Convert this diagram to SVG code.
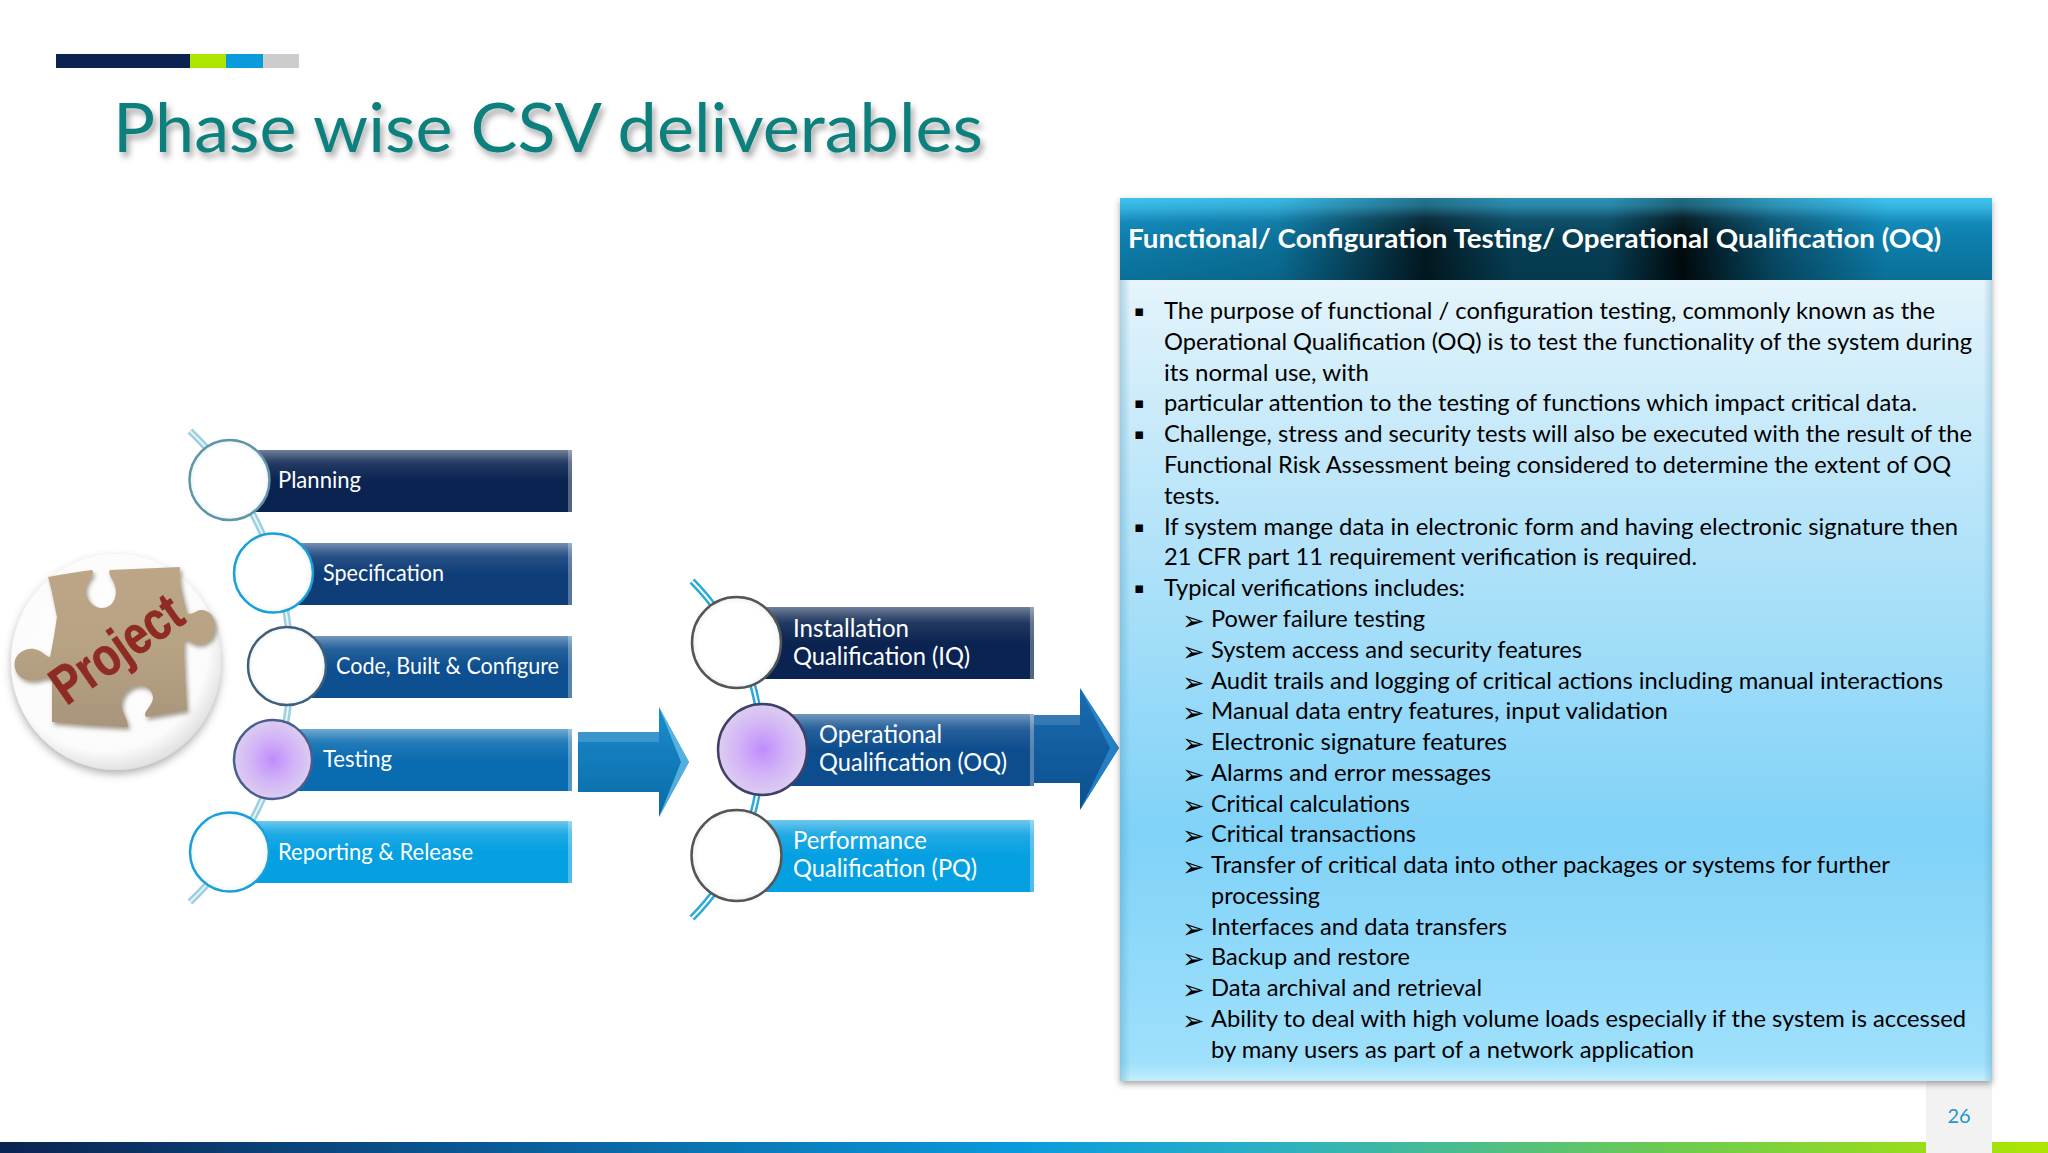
<svg xmlns="http://www.w3.org/2000/svg" width="2048" height="1153" viewBox="0 0 2048 1153">
<style>
text{font-family:"Lato","Open Sans","Liberation Sans",sans-serif}
.lb{fill:#fff;font-size:23px}
.lb2{fill:#fff;font-size:24.5px}
.bd{fill:#000;font-size:24px}
.bu{fill:#000;font-size:15px;font-family:"DejaVu Sans",sans-serif}
.ar{fill:#000;font-size:27px;font-family:"DejaVu Sans",sans-serif}
.hi{fill:url(#barHi)}
.ed{fill:#fff;opacity:.3}
.cw{fill:url(#cWhite);stroke-width:2.5}
.cp{fill:url(#cPurple);stroke-width:2.5}
.la{fill:none;stroke:#9ccfe0;stroke-width:7}
.lc{fill:none;stroke:#e4f4f8;stroke-width:2}
.ra{fill:none;stroke:#2aa9dc;stroke-width:7}
.rc{fill:none;stroke:#fff;stroke-width:2}
</style>
<defs>
<linearGradient id="barHi" x1="0" y1="0" x2="0" y2="1"><stop offset="0" stop-color="#fff" stop-opacity=".42"/><stop offset=".14" stop-color="#fff" stop-opacity=".2"/><stop offset=".22" stop-color="#fff" stop-opacity=".1"/><stop offset=".5" stop-color="#fff" stop-opacity="0"/></linearGradient>
<radialGradient id="cWhite"><stop offset="0" stop-color="#fff"/><stop offset=".85" stop-color="#fff"/><stop offset="1" stop-color="#eef3f6"/></radialGradient>
<radialGradient id="cPurple"><stop offset="0" stop-color="#bf8cfb"/><stop offset=".55" stop-color="#d2b4f7"/><stop offset="1" stop-color="#dccdf0"/></radialGradient>
<linearGradient id="bottom" x1="0" y1="0" x2="1" y2="0"><stop offset="0" stop-color="#0a2350"/><stop offset=".22" stop-color="#0a5590"/><stop offset=".5" stop-color="#0a9bdc"/><stop offset=".62" stop-color="#2bb0c4"/><stop offset=".82" stop-color="#6ecb4e"/><stop offset="1" stop-color="#aee600"/></linearGradient>
<linearGradient id="hdV" x1="0" y1="0" x2="0" y2="1"><stop offset="0" stop-color="#3cc3ee"/><stop offset=".14" stop-color="#2a9fd0"/><stop offset=".3" stop-color="#0f84b4"/><stop offset="1" stop-color="#0a7098"/></linearGradient>
<linearGradient id="hdH" x1="0" y1="0" x2="1" y2="0"><stop offset="0" stop-color="#000" stop-opacity="0"/><stop offset=".18" stop-color="#000" stop-opacity=".1"/><stop offset=".35" stop-color="#000" stop-opacity=".8"/><stop offset=".45" stop-color="#000" stop-opacity=".5"/><stop offset=".56" stop-color="#000" stop-opacity=".5"/><stop offset=".645" stop-color="#000" stop-opacity=".92"/><stop offset=".75" stop-color="#000" stop-opacity=".4"/><stop offset=".88" stop-color="#000" stop-opacity="0"/></linearGradient>
<linearGradient id="hdFade" x1="0" y1="0" x2="0" y2="1"><stop offset="0" stop-color="#3cc3ee" stop-opacity=".5"/><stop offset=".1" stop-color="#3cc3ee" stop-opacity=".45"/><stop offset=".24" stop-color="#3cc3ee" stop-opacity=".12"/><stop offset=".5" stop-color="#3cc3ee" stop-opacity="0"/></linearGradient>
<linearGradient id="body" x1="0" y1="0" x2="0" y2="1"><stop offset="0" stop-color="#fff"/><stop offset=".035" stop-color="#f6fbfe"/><stop offset=".12" stop-color="#dff2fb"/><stop offset=".32" stop-color="#bde6f9"/><stop offset=".72" stop-color="#80d2f8"/><stop offset=".98" stop-color="#9fe0fb"/><stop offset="1" stop-color="#c4eefc"/></linearGradient>
<linearGradient id="bodyL" x1="0" y1="0" x2="1" y2="0"><stop offset="0" stop-color="#4a96b8" stop-opacity=".35"/><stop offset=".012" stop-color="#4a96b8" stop-opacity="0"/><stop offset=".99" stop-color="#4a96b8" stop-opacity="0"/><stop offset="1" stop-color="#4a96b8" stop-opacity=".3"/></linearGradient>
<linearGradient id="arr1" x1="0" y1="0" x2="0" y2="1"><stop offset="0" stop-color="#1a8ccb"/><stop offset="1" stop-color="#0b6aa8"/></linearGradient>
<linearGradient id="arr2" x1="0" y1="0" x2="0" y2="1"><stop offset="0" stop-color="#1a6cb0"/><stop offset="1" stop-color="#0b4f8f"/></linearGradient>
<radialGradient id="ball" cx=".45" cy=".42" r=".6"><stop offset="0" stop-color="#fff"/><stop offset=".82" stop-color="#fbfbfb"/><stop offset="1" stop-color="#dedede"/></radialGradient>
<linearGradient id="wood" x1="0" y1="0" x2="0" y2="1"><stop offset="0" stop-color="#bda688"/><stop offset=".5" stop-color="#b8a284"/><stop offset="1" stop-color="#a8957a"/></linearGradient>
<filter id="tsh" x="-5%" y="-20%" width="110%" height="150%"><feDropShadow dx="3" dy="5" stdDeviation="3" flood-color="#000" flood-opacity=".35"/></filter>
<filter id="psh" x="-5%" y="-5%" width="110%" height="110%"><feDropShadow dx="0" dy="3" stdDeviation="3" flood-color="#333" flood-opacity=".45"/></filter>
<filter id="bsh" x="-15%" y="-15%" width="130%" height="130%"><feDropShadow dx="0" dy="4" stdDeviation="4" flood-color="#555" flood-opacity=".45"/></filter>
<filter id="pzs" x="-10%" y="-10%" width="120%" height="120%"><feDropShadow dx="2" dy="3" stdDeviation="2" flood-color="#6a5a45" flood-opacity=".6"/></filter>
</defs>
<rect width="2048" height="1153" fill="#fff"/>
<g id="top-bar"><rect x="56" y="54" width="134" height="14" fill="#0a2350"/><rect x="190" y="54" width="36" height="14" fill="#aee600"/><rect x="226" y="54" width="37" height="14" fill="#0a9bdc"/><rect x="263" y="54" width="36" height="14" fill="#cccccc"/></g>
<text id="title" x="113" y="152" font-size="68" fill="#0d7f7c" textLength="870" lengthAdjust="spacingAndGlyphs" filter="url(#tsh)">Phase wise CSV deliverables</text>
<rect x="0" y="1142" width="2048" height="11" fill="url(#bottom)"/>
<g id="page-number"><rect x="1926" y="1081" width="66" height="72" fill="#f2f2f2"/><text x="1959" y="1123" font-size="20" fill="#2a93cc" text-anchor="middle">26</text></g>

<g id="project">
<ellipse cx="116" cy="662" rx="105" ry="108" fill="url(#ball)" filter="url(#bsh)"/>
<path d="M48 577 C62 574 78 572 92 570 C96 574 88 578 86 586 C84 600 94 608 102 608 C113 608 118 596 115 586 C113 578 107 574 110 570 L180 567 C178 582 184 600 187 613 C192 616 196 610 201 610 C210 610 216 618 215 628 C214 640 204 645 196 644 C190 643 187 638 184 640 C184 665 186 690 187 710 L146 717 C142 712 153 706 153 697 C152 688 144 684 136 686 C126 688 120 698 122 708 C123 714 128 720 128 727 C102 726 76 724 52 722 C52 708 52 692 52 680 C46 674 40 682 28 680 C18 678 13 670 15 660 C18 652 26 648 34 649 C42 650 46 657 50 657 C53 643 55 630 57 617 C54 603 52 590 48 577 Z" fill="url(#wood)" filter="url(#pzs)"/>
<text x="117" y="667" font-size="54" font-weight="700" fill="#8e2b22" text-anchor="middle" textLength="148" lengthAdjust="spacingAndGlyphs" stroke="#8e2b22" stroke-width=".8" transform="rotate(-35 117 650)" style="font-family:'Liberation Sans',sans-serif">Project</text>
</g>

<g id="connectors">
<path class="la" d="M190 431 A326 326 0 0 1 190 902"/><path class="lc" d="M190 431 A326 326 0 0 1 190 902"/>
<path class="ra" d="M692 581 A239 239 0 0 1 692 918"/><path class="rc" d="M692 581 A239 239 0 0 1 692 918"/>
</g>

<g id="planning"><rect x="245" y="450" width="327" height="62" fill="#0a2350"/><rect class="hi" x="245" y="450" width="327" height="62"/><rect class="ed" x="568" y="450" width="4" height="62"/><ellipse class="cw" cx="229.500" cy="480" rx="40" ry="40" stroke="#5f95a8"/><text class="lb" x="278" y="488" textLength="83" lengthAdjust="spacingAndGlyphs">Planning</text></g>
<g id="specification"><rect x="295" y="543" width="277" height="62" fill="#0e3d78"/><rect class="hi" x="295" y="543" width="277" height="62"/><rect class="ed" x="568" y="543" width="4" height="62"/><ellipse class="cw" cx="273.500" cy="573" rx="39.500" ry="39.500" stroke="#1aa0d8"/><text class="lb" x="323" y="581" textLength="121" lengthAdjust="spacingAndGlyphs">Specification</text></g>
<g id="code"><rect x="305" y="636" width="267" height="62" fill="#0d4f90"/><rect class="hi" x="305" y="636" width="267" height="62"/><rect class="ed" x="568" y="636" width="4" height="62"/><ellipse class="cw" cx="287" cy="666" rx="39" ry="39" stroke="#3f6078"/><text class="lb" x="336" y="674" textLength="223" lengthAdjust="spacingAndGlyphs">Code, Built &amp; Configure</text></g>
<g id="testing"><rect x="295" y="729" width="277" height="62" fill="#0a6cb0"/><rect class="hi" x="295" y="729" width="277" height="62"/><rect class="ed" x="568" y="729" width="4" height="62"/><ellipse class="cp" cx="273" cy="759.500" rx="39" ry="39.500" stroke="#4a5f90"/><text class="lb" x="323" y="767" textLength="69" lengthAdjust="spacingAndGlyphs">Testing</text></g>
<g id="reporting"><rect x="245" y="821" width="327" height="62" fill="#05a0e2"/><rect class="hi" x="245" y="821" width="327" height="62"/><rect class="ed" x="568" y="821" width="4" height="62"/><ellipse class="cw" cx="229.500" cy="852" rx="39.500" ry="39.500" stroke="#1aa0d8"/><text class="lb" x="278" y="860" textLength="195" lengthAdjust="spacingAndGlyphs">Reporting &amp; Release</text></g>

<g id="arrow-1"><path d="M578 732 H659 V707 L689 762 L659 817 V792 H578 Z" fill="url(#arr1)"/><path d="M578 732 H659 V742 H578 Z" fill="#fff" opacity=".16"/><path d="M659 707 L689 762 L659 817 L681 762 Z" fill="#6cc8f0" opacity=".7"/></g>
<g id="arrow-2"><path d="M1034 715 H1080 V688 L1119 748 L1080 810 V783 H1034 Z" fill="url(#arr2)"/><path d="M1034 715 H1080 V725 H1034 Z" fill="#fff" opacity=".14"/><path d="M1080 688 L1119 748 L1080 810 L1110 748 Z" fill="#2f8fd6" opacity=".7"/></g>

<g id="iq"><rect x="750" y="607" width="284" height="72" fill="#0a2350"/><rect class="hi" x="750" y="607" width="284" height="72"/><rect class="ed" x="1030" y="607" width="4" height="72"/><ellipse class="cw" cx="736.500" cy="642.500" rx="44.500" ry="45.500" stroke="#555"/><text class="lb2" x="793" y="637" textLength="116" lengthAdjust="spacingAndGlyphs">Installation</text><text class="lb2" x="793" y="665" textLength="177" lengthAdjust="spacingAndGlyphs">Qualification (IQ)</text></g>
<g id="oq"><rect x="780" y="714" width="254" height="72" fill="#0d4d8e"/><rect class="hi" x="780" y="714" width="254" height="72"/><rect class="ed" x="1030" y="714" width="4" height="72"/><ellipse class="cp" cx="762.500" cy="749.500" rx="44.500" ry="45.500" stroke="#40406a"/><text class="lb2" x="819" y="743" textLength="123" lengthAdjust="spacingAndGlyphs">Operational</text><text class="lb2" x="819" y="771" textLength="188" lengthAdjust="spacingAndGlyphs">Qualification (OQ)</text></g>
<g id="pq"><rect x="750" y="820" width="284" height="72" fill="#05a0e2"/><rect class="hi" x="750" y="820" width="284" height="72"/><rect class="ed" x="1030" y="820" width="4" height="72"/><ellipse class="cw" cx="736.500" cy="855.500" rx="45" ry="45.500" stroke="#555"/><text class="lb2" x="793" y="849" textLength="134" lengthAdjust="spacingAndGlyphs">Performance</text><text class="lb2" x="793" y="877" textLength="184" lengthAdjust="spacingAndGlyphs">Qualification (PQ)</text></g>

<g id="panel">
<rect x="1120" y="198" width="872" height="883" fill="url(#body)" filter="url(#psh)"/>
<rect x="1120" y="280" width="872" height="801" fill="url(#bodyL)"/>
<rect x="1120" y="198" width="872" height="82" fill="url(#hdV)"/>
<rect x="1120" y="198" width="872" height="82" fill="url(#hdH)"/>
<rect x="1120" y="198" width="872" height="82" fill="url(#hdFade)"/>
<text x="1128" y="248" font-size="27" font-weight="700" fill="#fff" textLength="813" lengthAdjust="spacingAndGlyphs">Functional/ Configuration Testing/ Operational Qualification (OQ)</text>
<g>
<text class="bu" x="1134" y="316">▪</text><text class="bd" x="1164" y="319" textLength="771" lengthAdjust="spacingAndGlyphs">The purpose of functional / configuration testing, commonly known as the</text>
<text class="bd" x="1164" y="350" textLength="808" lengthAdjust="spacingAndGlyphs">Operational Qualification (OQ) is to test the functionality of the system during</text>
<text class="bd" x="1164" y="381" textLength="205" lengthAdjust="spacingAndGlyphs">its normal use, with</text>
<text class="bu" x="1134" y="408">▪</text><text class="bd" x="1164" y="411" textLength="753" lengthAdjust="spacingAndGlyphs">particular attention to the testing of functions which impact critical data.</text>
<text class="bu" x="1134" y="439">▪</text><text class="bd" x="1164" y="442" textLength="808" lengthAdjust="spacingAndGlyphs">Challenge, stress and security tests will also be executed with the result of the</text>
<text class="bd" x="1164" y="473" textLength="787" lengthAdjust="spacingAndGlyphs">Functional Risk Assessment being considered to determine the extent of OQ</text>
<text class="bd" x="1164" y="504" textLength="56" lengthAdjust="spacingAndGlyphs">tests.</text>
<text class="bu" x="1134" y="532">▪</text><text class="bd" x="1164" y="535" textLength="794" lengthAdjust="spacingAndGlyphs">If system mange data in electronic form and having electronic signature then</text>
<text class="bd" x="1164" y="565" textLength="533" lengthAdjust="spacingAndGlyphs">21 CFR part 11 requirement verification is required.</text>
<text class="bu" x="1134" y="593">▪</text><text class="bd" x="1164" y="596" textLength="301" lengthAdjust="spacingAndGlyphs">Typical verifications includes:</text>
<text class="ar" x="1182" y="630">➢</text><text class="bd" x="1211" y="627" textLength="214" lengthAdjust="spacingAndGlyphs">Power failure testing</text>
<text class="ar" x="1182" y="661">➢</text><text class="bd" x="1211" y="658" textLength="371" lengthAdjust="spacingAndGlyphs">System access and security features</text>
<text class="ar" x="1182" y="692">➢</text><text class="bd" x="1211" y="689" textLength="732" lengthAdjust="spacingAndGlyphs">Audit trails and logging of critical actions including manual interactions</text>
<text class="ar" x="1182" y="722">➢</text><text class="bd" x="1211" y="719" textLength="457" lengthAdjust="spacingAndGlyphs">Manual data entry features, input validation</text>
<text class="ar" x="1182" y="753">➢</text><text class="bd" x="1211" y="750" textLength="296" lengthAdjust="spacingAndGlyphs">Electronic signature features</text>
<text class="ar" x="1182" y="784">➢</text><text class="bd" x="1211" y="781" textLength="280" lengthAdjust="spacingAndGlyphs">Alarms and error messages</text>
<text class="ar" x="1182" y="815">➢</text><text class="bd" x="1211" y="812" textLength="199" lengthAdjust="spacingAndGlyphs">Critical calculations</text>
<text class="ar" x="1182" y="845">➢</text><text class="bd" x="1211" y="842" textLength="205" lengthAdjust="spacingAndGlyphs">Critical transactions</text>
<text class="ar" x="1182" y="876">➢</text><text class="bd" x="1211" y="873" textLength="679" lengthAdjust="spacingAndGlyphs">Transfer of critical data into other packages or systems for further</text>
<text class="bd" x="1211" y="904" textLength="109" lengthAdjust="spacingAndGlyphs">processing</text>
<text class="ar" x="1182" y="938">➢</text><text class="bd" x="1211" y="935" textLength="296" lengthAdjust="spacingAndGlyphs">Interfaces and data transfers</text>
<text class="ar" x="1182" y="968">➢</text><text class="bd" x="1211" y="965" textLength="199" lengthAdjust="spacingAndGlyphs">Backup and restore</text>
<text class="ar" x="1182" y="999">➢</text><text class="bd" x="1211" y="996" textLength="271" lengthAdjust="spacingAndGlyphs">Data archival and retrieval</text>
<text class="ar" x="1182" y="1030">➢</text><text class="bd" x="1211" y="1027" textLength="755" lengthAdjust="spacingAndGlyphs">Ability to deal with high volume loads especially if the system is accessed</text>
<text class="bd" x="1211" y="1058" textLength="483" lengthAdjust="spacingAndGlyphs">by many users as part of a network application</text>
</g>
</g>
</svg>
